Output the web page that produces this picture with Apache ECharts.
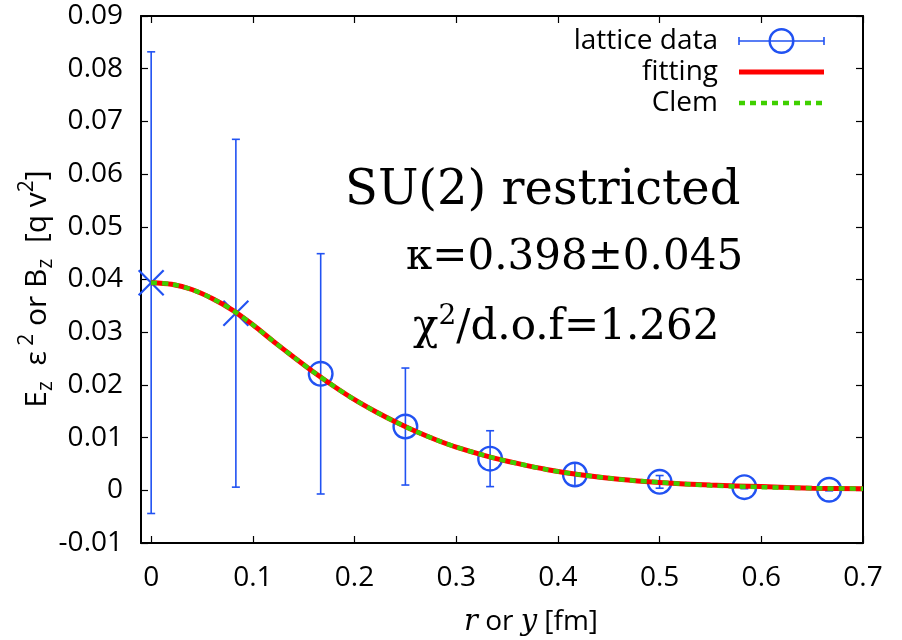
<!DOCTYPE html>
<html>
<head>
<meta charset="utf-8">
<script src="https://cdn.jsdelivr.net/npm/echarts@6/dist/echarts.min.js"></script>
<style>
  html, body { margin: 0; padding: 0; background: #fff; }
  #chart { width: 902px; height: 640px; }
</style>
</head>
<body>
<div id="chart"></div>
<script>
// lattice data (r in fm, field in q v^2)
var latticeX = [0, 0.0833, 0.1667, 0.25, 0.3333, 0.4167, 0.5, 0.5833, 0.6667];
var latticeY = [0.0394, 0.0336, 0.0221, 0.0121, 0.0060, 0.0030, 0.0016, 0.0006, 0.0001];
var latticeErr = [0.0438, 0.0330, 0.0228, 0.0111, 0.0053, 0.0022, 0.0012, 0.0003, 0.0002];
// first two points are left out of the fit (drawn as crosses)
var excluded = [1, 1, 0, 0, 0, 0, 0, 0, 0];

// fit curves
var curveX = [0, 0.02, 0.04, 0.06, 0.08, 0.10, 0.12, 0.14, 0.16, 0.18, 0.20, 0.22, 0.24, 0.26, 0.28, 0.30, 0.33, 0.36, 0.39, 0.42, 0.46, 0.50, 0.55, 0.60, 0.65, 0.70];
var fitY = [0.0394, 0.0391, 0.0381, 0.0364, 0.0342, 0.0314, 0.0283, 0.0253, 0.0224, 0.0197, 0.0172, 0.0150, 0.0130, 0.0112, 0.0096, 0.0082, 0.0065, 0.0051, 0.0039, 0.0030, 0.0021, 0.0015, 0.0010, 0.0007, 0.0004, 0.0003];
var clemY = [0.0394, 0.0391, 0.0381, 0.0364, 0.0342, 0.0314, 0.0283, 0.0253, 0.0224, 0.0197, 0.0172, 0.0150, 0.0130, 0.0112, 0.0096, 0.0082, 0.0065, 0.0051, 0.0039, 0.0030, 0.0021, 0.0015, 0.0009, 0.0006, 0.0004, 0.0003];

var xTicks = [0, 0.1, 0.2, 0.3, 0.4, 0.5, 0.6, 0.7];
var yTicks = [-0.01, 0, 0.01, 0.02, 0.03, 0.04, 0.05, 0.06, 0.07, 0.08, 0.09];

var BLUE = '#2152f2';
var RED = '#ff0000';
var GREEN = '#3fd000';
var SANS = '"Open Sans", sans-serif';
var SERIF = '"DejaVu Serif", serif';

var chart = echarts.init(document.getElementById('chart'));

function pairs(xs, ys) {
  return xs.map(function (x, i) { return [x, ys[i]]; });
}

var tickLabel = function (v) {
  if (Math.abs(v) < 1e-9) return '0';
  return String(Math.round(v * 100) / 100);
};

var frameLine = { show: true, onZero: false, lineStyle: { color: '#000', width: 2 } };
var tickStyle = { show: true, inside: true, length: 7, lineStyle: { color: '#000', width: 1.2 } };

chart.setOption({
  animation: false,
  backgroundColor: '#fff',
  grid: { left: 141, right: 39, top: 16, bottom: 97 },
  xAxis: [{
    type: 'value', min: -0.01, max: 0.7, position: 'bottom',
    axisLine: frameLine,
    axisTick: Object.assign({}, tickStyle, { customValues: xTicks }),
    axisLabel: { customValues: xTicks, formatter: tickLabel, margin: 21, color: '#000', fontFamily: SANS, fontSize: 28 },
    splitLine: { show: false }
  }, {
    type: 'value', min: -0.01, max: 0.7, position: 'top',
    axisLine: frameLine,
    axisTick: Object.assign({}, tickStyle, { customValues: xTicks }),
    axisLabel: { show: false },
    splitLine: { show: false }
  }],
  yAxis: [{
    type: 'value', min: -0.01, max: 0.09, position: 'left',
    axisLine: frameLine,
    axisTick: Object.assign({}, tickStyle, { customValues: yTicks }),
    axisLabel: { customValues: yTicks, formatter: tickLabel, margin: 18, color: '#000', fontFamily: SANS, fontSize: 28 },
    splitLine: { show: false }
  }, {
    type: 'value', min: -0.01, max: 0.09, position: 'right',
    axisLine: frameLine,
    axisTick: Object.assign({}, tickStyle, { customValues: yTicks }),
    axisLabel: { show: false },
    splitLine: { show: false }
  }],
  series: [{
    name: 'lattice data',
    type: 'custom',
    clip: false,
    z: 2,
    data: latticeX.map(function (x, i) { return [x, latticeY[i], latticeErr[i], excluded[i]]; }),
    renderItem: function (params, api) {
      var x = api.value(0), y = api.value(1), e = api.value(2);
      var c = api.coord([x, y]);
      var top = api.coord([x, y + e]);
      var bot = api.coord([x, y - e]);
      var cap = 4;
      var ls = { stroke: BLUE, lineWidth: 1.6 };
      var kids = [
        { type: 'line', shape: { x1: c[0], y1: top[1], x2: c[0], y2: bot[1] }, style: ls },
        { type: 'line', shape: { x1: c[0] - cap, y1: top[1], x2: c[0] + cap, y2: top[1] }, style: ls },
        { type: 'line', shape: { x1: c[0] - cap, y1: bot[1], x2: c[0] + cap, y2: bot[1] }, style: ls }
      ];
      if (api.value(3)) {
        var h = 12.5;
        kids.push({ type: 'line', shape: { x1: c[0] - h, y1: c[1] - h, x2: c[0] + h, y2: c[1] + h }, style: { stroke: BLUE, lineWidth: 2.2 } });
        kids.push({ type: 'line', shape: { x1: c[0] - h, y1: c[1] + h, x2: c[0] + h, y2: c[1] - h }, style: { stroke: BLUE, lineWidth: 2.2 } });
      } else {
        kids.push({ type: 'circle', shape: { cx: c[0], cy: c[1], r: 11.8 }, style: { fill: 'none', stroke: BLUE, lineWidth: 2.4 } });
      }
      return { type: 'group', children: kids };
    }
  }, {
    name: 'fitting',
    type: 'line',
    z: 3,
    data: pairs(curveX, fitY),
    smooth: 0.3,
    showSymbol: false,
    lineStyle: { color: RED, width: 5 }
  }, {
    name: 'Clem',
    type: 'line',
    z: 4,
    data: pairs(curveX, clemY),
    smooth: 0.3,
    showSymbol: false,
    lineStyle: { color: GREEN, width: 4.5, type: [6, 5], cap: 'butt' }
  }],
  graphic: [
    // y axis title
    {
      type: 'text', x: 37, y: 289, rotation: Math.PI / 2,
      style: {
        text: '{a|E}{b|z}{a|  ε}{c| 2}{a| or B}{b|z}{a|  [q v}{c|2}{a|]}',
        align: 'center', verticalAlign: 'middle', fill: '#000',
        rich: {
          a: { fontFamily: SANS, fontSize: 30, lineHeight: 40, fill: '#000' },
          b: { fontFamily: SANS, fontSize: 21, lineHeight: 21, verticalAlign: 'bottom', fill: '#000' },
          c: { fontFamily: SANS, fontSize: 21, lineHeight: 21, verticalAlign: 'top', fill: '#000' }
        }
      }
    },
    // x axis title
    {
      type: 'text', x: 531, y: 622,
      style: {
        text: '{i|r}{a| or }{i|y}{a| [fm]}',
        align: 'center', verticalAlign: 'middle',
        rich: {
          a: { fontFamily: SANS, fontSize: 28, fill: '#000' },
          i: { fontFamily: SERIF, fontStyle: 'italic', fontSize: 29, fill: '#000' }
        }
      }
    },
    // annotations
    {
      type: 'text', x: 345, y: 192,
      style: { text: 'SU(2) restricted', fontFamily: SERIF, fontSize: 48, fill: '#000', align: 'left', verticalAlign: 'middle' }
    },
    {
      type: 'text', x: 406, y: 258,
      style: { text: 'κ=0.398±0.045', fontFamily: SERIF, fontSize: 42, fill: '#000', align: 'left', verticalAlign: 'middle' }
    },
    {
      type: 'text', x: 413, y: 328,
      style: {
        text: '{a|χ}{s|2}{a|/d.o.f=1.262}',
        align: 'left', verticalAlign: 'middle',
        rich: {
          a: { fontFamily: SERIF, fontSize: 42, lineHeight: 50, fill: '#000' },
          s: { fontFamily: SERIF, fontSize: 28, lineHeight: 28, verticalAlign: 'top', fill: '#000' }
        }
      }
    },
    // legend
    {
      type: 'group',
      children: [
        { type: 'text', x: 718, y: 41, style: { text: 'lattice data', fontFamily: SANS, fontSize: 28, fill: '#000', align: 'right', verticalAlign: 'middle' } },
        { type: 'line', shape: { x1: 739, y1: 41, x2: 824, y2: 41 }, style: { stroke: BLUE, lineWidth: 1.6 } },
        { type: 'line', shape: { x1: 739, y1: 37, x2: 739, y2: 45 }, style: { stroke: BLUE, lineWidth: 1.6 } },
        { type: 'line', shape: { x1: 824, y1: 37, x2: 824, y2: 45 }, style: { stroke: BLUE, lineWidth: 1.6 } },
        { type: 'circle', shape: { cx: 781.5, cy: 41, r: 11.8 }, style: { fill: 'none', stroke: BLUE, lineWidth: 2.4 } },
        { type: 'text', x: 718, y: 72, style: { text: 'fitting', fontFamily: SANS, fontSize: 28, fill: '#000', align: 'right', verticalAlign: 'middle' } },
        { type: 'line', shape: { x1: 739, y1: 72, x2: 824, y2: 72 }, style: { stroke: RED, lineWidth: 5 } },
        { type: 'text', x: 718, y: 103, style: { text: 'Clem', fontFamily: SANS, fontSize: 28, fill: '#000', align: 'right', verticalAlign: 'middle' } },
        { type: 'line', shape: { x1: 739, y1: 103, x2: 824, y2: 103 }, style: { stroke: GREEN, lineWidth: 4.5, lineDash: [6, 5] } }
      ]
    }
  ]
});
</script>
</body>
</html>
